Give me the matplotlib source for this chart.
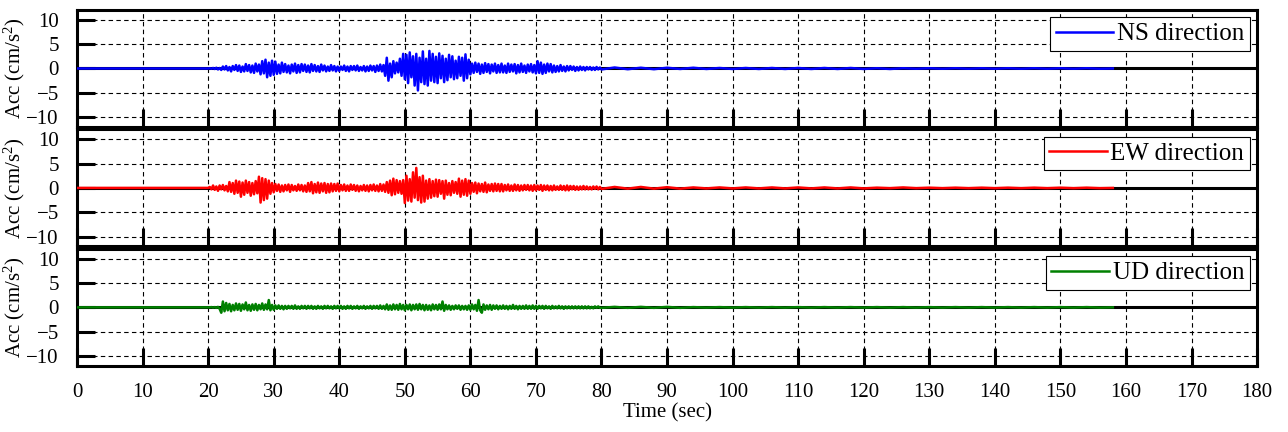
import numpy as np
import matplotlib
matplotlib.use('Agg')
import matplotlib.pyplot as plt

# ---------------- data ----------------
# strong-motion part: 20 s .. 79.75 s every 0.25 s
t_main = np.arange(20.0, 80.0, 0.25)
# quiet tail: 80 s .. 158 s every 2 s
t_tail = np.arange(80.0, 160.0, 2.0)

ns_main = [
    0.0, 0.05, -0.05, 0.1, -0.1, 0.15, -0.2, 0.1, -0.3, 0.4,
    -0.2, 0.5, -0.4, 0.3, -0.6, 0.5, -0.3, 0.7, -0.5, 0.6,
    -0.7, 0.4, -0.6, 0.9, -0.5, 0.7, -0.8, 0.6, -0.9, 1.0,
    -0.6, 0.8, -1.2, 1.5, -1.0, 1.8, -1.8, 1.2, -1.5, 1.6,
    -1.3, 1.4, -1.1, 0.8, -1.0, 1.2, -0.7, 0.9, -0.8, 0.6,
    -1.0, 0.8, -0.6, 1.0, -0.9, 0.7, -0.8, 0.9, -0.5, 0.8,
    -0.7, 0.6, -0.8, 0.9, -0.5, 0.7, -0.6, 0.5, -0.7, 0.8,
    -0.4, 0.6, -0.6, 0.4, -0.5, 0.7, -0.4, 0.5, -0.6, 0.4,
    -0.5, 0.4, -0.3, 0.6, -0.5, 0.4, -0.6, 0.5, -0.3, 0.5,
    -0.4, 0.6, -0.5, 0.3, -0.4, 0.5, -0.6, 0.4, -0.5, 0.6,
    -0.4, 0.5, -0.7, 0.6, -0.5, 0.8, -0.6, 0.7, -1.5, 2.2,
    -2.5, 1.0, -1.8, 1.5, -1.0, 1.2, -0.8, 2.0, -1.5, 3.0,
    -2.2, 2.8, -3.0, 3.3, -1.8, 2.5, -3.5, 3.0, -4.5, 2.2,
    -2.8, 3.5, -3.2, 2.0, -3.5, 3.6, -2.5, 3.0, -2.8, 2.4,
    -3.0, 3.1, -2.0, 2.6, -2.8, 2.0, -2.4, 2.8, -1.8, 2.5,
    -2.2, 1.6, -2.0, 2.4, -1.5, 2.2, -2.5, 2.9, -2.0, 1.8,
    -1.2, 1.0, -0.9, 1.2, -0.7, 1.0, -1.1, 0.8, -0.9, 1.1,
    -0.7, 0.9, -1.0, 0.8, -0.6, 1.0, -0.9, 0.7, -0.8, 1.0,
    -0.8, 0.6, -0.9, 1.0, -0.7, 0.8, -0.6, 0.9, -1.0, 0.7,
    -0.8, 1.0, -0.7, 0.6, -0.9, 0.8, -0.6, 0.9, -0.8, 0.7,
    -1.0, 1.5, -0.9, 1.2, -1.1, 0.8, -0.9, 1.0, -0.6, 0.9,
    -0.8, 0.6, -0.7, 0.5, -0.6, 0.7, -0.5, 0.4, -0.6, 0.5,
    -0.4, 0.5, -0.3, 0.4, -0.5, 0.3, -0.4, 0.4, -0.3, 0.3,
    -0.4, 0.3, -0.2, 0.3, -0.3, 0.2, -0.3, 0.3, -0.2, 0.2,
]
ew_main = [
    0.0, 0.2, -0.3, 0.5, -0.4, 0.3, -0.6, 0.5, -0.3, 0.6,
    -0.5, 0.4, -0.7, 1.2, -0.8, 1.0, -1.2, 1.5, -1.0, 1.3,
    -1.8, 1.1, -1.4, 1.5, -1.0, 1.2, -1.6, 1.0, -1.3, 1.4,
    -1.1, 2.3, -3.0, 2.0, -2.5, 1.8, -2.2, 1.5, -1.2, 1.0,
    -0.9, 0.8, -0.6, 0.7, -0.8, 0.5, -0.7, 0.6, -0.5, 0.7,
    -0.8, 0.6, -0.5, 0.4, -0.6, 0.7, -0.5, 0.6, -0.7, 0.5,
    -0.8, 1.0, -0.7, 1.2, -1.1, 0.8, -0.9, 1.1, -1.0, 0.9,
    -0.7, 1.0, -1.0, 0.8, -0.9, 0.9, -0.7, 0.8, -0.6, 0.9,
    -0.7, 0.6, -0.5, 0.7, -0.6, 0.5, -0.6, 0.7, -0.4, 0.6,
    -0.6, 0.5, -0.7, 0.4, -0.5, 0.6, -0.6, 0.5, -0.7, 0.6,
    -0.5, 0.7, -0.6, 0.5, -0.7, 0.8, -0.6, 0.7, -0.8, 1.2,
    -1.0, 1.5, -1.5, 1.9, -1.3, 1.6, -1.0, 1.4, -1.2, 1.6,
    -3.1, 2.5, -2.6, 1.8, -2.8, 3.2, -2.0, 4.1, -2.5, 2.2,
    -3.0, 2.5, -2.8, 1.5, -2.2, 1.8, -2.0, 1.4, -1.7, 1.7,
    -1.8, 1.6, -1.2, 1.4, -2.2, 1.5, -1.4, 1.0, -1.5, 1.4,
    -1.0, 1.2, -1.2, 1.9, -1.8, 1.5, -1.4, 1.8, -1.6, 1.5,
    -1.2, 1.0, -0.8, 1.1, -1.1, 0.9, -0.7, 0.8, -0.8, 1.1,
    -0.9, 0.7, -0.6, 0.8, -0.7, 0.9, -0.6, 0.8, -0.7, 0.8,
    -0.7, 0.6, -0.5, 0.7, -0.6, 0.5, -0.6, 0.7, -0.5, 0.6,
    -0.6, 0.5, -0.5, 0.6, -0.4, 0.6, -0.5, 0.5, -0.6, 0.6,
    -0.5, 0.5, -0.4, 0.6, -0.6, 0.5, -0.4, 0.5, -0.5, 0.4,
    -0.5, 0.5, -0.4, 0.3, -0.4, 0.5, -0.4, 0.4, -0.5, 0.5,
    -0.5, 0.4, -0.3, 0.4, -0.4, 0.3, -0.4, 0.3, -0.3, 0.4,
    -0.3, 0.3, -0.3, 0.2, -0.3, 0.3, -0.2, 0.3, -0.3, 0.2,
]
ud_main = [
    0.0, 0.0, 0.05, -0.05, 0.05, -0.1, 0.1, -0.3, -1.1, 1.2,
    -0.8, 0.9, -0.6, 0.7, -0.8, 0.5, -0.6, 0.8, -0.5, 0.7,
    -0.7, 0.6, -0.4, 1.0, -0.6, 0.5, -0.7, 0.6, -0.5, 0.7,
    -0.6, 0.5, -0.4, 0.8, -0.5, 0.6, -0.4, 1.5, -0.6, 0.5,
    -0.5, 0.4, -0.3, 0.4, -0.3, 0.3, -0.4, 0.3, -0.3, 0.3,
    -0.2, 0.3, -0.3, 0.4, -0.3, 0.2, -0.3, 0.3, -0.2, 0.3,
    -0.3, 0.3, -0.2, 0.3, -0.3, 0.2, -0.3, 0.3, -0.2, 0.2,
    -0.3, 0.3, -0.2, 0.3, -0.2, 0.2, -0.3, 0.3, -0.2, 0.3,
    -0.2, 0.3, -0.3, 0.2, -0.3, 0.3, -0.2, 0.3, -0.3, 0.2,
    -0.2, 0.3, -0.3, 0.2, -0.2, 0.3, -0.3, 0.2, -0.2, 0.3,
    -0.3, 0.3, -0.2, 0.3, -0.3, 0.4, -0.3, 0.3, -0.4, 0.6,
    -0.5, 0.4, -0.5, 0.6, -0.4, 0.5, -0.5, 0.7, -0.4, 0.5,
    -0.6, 0.5, -0.4, 0.6, -0.6, 0.5, -0.4, 0.6, -0.5, 0.7,
    -0.4, 0.5, -0.6, 0.5, -0.5, 0.4, -0.6, 0.6, -0.4, 0.5,
    -0.5, 0.6, -0.4, 1.2, -0.7, 0.5, -0.4, 0.4, -0.5, 0.3,
    -0.4, 0.4, -0.3, 0.4, -0.5, 0.3, -0.4, 0.3, -0.5, 0.4,
    -0.5, 0.6, -0.4, 0.5, -0.7, 1.5, -0.6, -1.1, 0.6, -0.5,
    0.4, -0.4, 0.5, -0.5, 0.4, -0.3, 0.4, -0.4, 0.3, -0.3,
    0.4, -0.3, 0.3, -0.4, 0.3, -0.3, 0.5, -0.3, 0.3, -0.4,
    0.3, -0.3, 0.3, -0.3, 0.4, -0.3, 0.3, -0.3, 0.4, -0.3,
    0.3, -0.3, 0.3, -0.2, 0.3, -0.3, 0.3, -0.2, 0.2, -0.3,
    0.3, -0.2, 0.2, -0.2, 0.3, -0.2, 0.2, -0.3, 0.2, -0.2,
    0.2, -0.2, 0.2, -0.2, 0.2, -0.2, 0.2, -0.2, 0.2, -0.2,
    0.2, -0.2, 0.2, -0.2, 0.1, -0.2, 0.2, -0.1, 0.2, -0.1,
]
ns_tail = [
    -0.2, 0.2, -0.15, 0.15, -0.15, 0.15, -0.1, 0.15, -0.1, 0.1,
    -0.1, 0.1, -0.1, 0.1, -0.1, 0.1, -0.1, 0.1, -0.1, 0.1,
    -0.1, 0.05, -0.1, 0.05, -0.05, 0.05, -0.05, 0.05, -0.05, 0.05,
    -0.05, 0.05, -0.05, 0.05, -0.05, 0.05, -0.05, 0.05, -0.05, 0.0,
]
ew_tail = [
    -0.2, 0.2, -0.15, 0.2, -0.15, 0.15, -0.15, 0.1, -0.1, 0.1,
    -0.1, 0.1, -0.1, 0.1, -0.1, 0.1, -0.1, 0.1, -0.1, 0.1,
    -0.1, 0.05, -0.05, 0.1, -0.05, 0.05, -0.05, 0.05, -0.05, 0.05,
    -0.05, 0.05, -0.05, 0.05, -0.05, 0.05, -0.05, 0.05, -0.05, 0.0,
]
ud_tail = [
    -0.1, 0.1, -0.1, 0.1, -0.1, 0.1, -0.1, 0.05, -0.05, 0.05,
    -0.05, 0.05, -0.05, 0.05, -0.05, 0.05, -0.05, 0.05, -0.05, 0.05,
    -0.05, 0.05, -0.05, 0.05, -0.05, 0.05, -0.05, 0.05, -0.05, 0.05,
    -0.05, 0.05, -0.05, 0.05, -0.05, 0.05, -0.05, 0.05, -0.05, 0.0,
]

labels = ['NS direction', 'EW direction', 'UD direction']
colors = ['blue', 'red', 'green']
series = [(ns_main, ns_tail), (ew_main, ew_tail), (ud_main, ud_tail)]
x_ticks = np.arange(0, 181, 10)
y_ticks = [-10, -5, 0, 5, 10]

# ---------------- style ----------------
plt.rcParams['font.family'] = ['Liberation Serif', 'DejaVu Serif']
plt.rcParams['mathtext.fontset'] = 'custom'
plt.rcParams['mathtext.rm'] = 'Liberation Serif'
plt.rcParams['mathtext.it'] = 'Liberation Serif:italic'

fig, axes = plt.subplots(3, 1, figsize=(12.88, 4.32), dpi=100, sharex=True)
fig.subplots_adjust(left=0.0598, right=0.976, top=0.977, bottom=0.153, hspace=0.02)

for ax, (main, tail), lab, col in zip(axes, series, labels, colors):
    t = np.concatenate([[0.0], t_main, t_tail])
    a = np.concatenate([[0.0], main, tail])
    ax.axhline(0, color='black', lw=2.2, zorder=2)                 # thick zero line
    ax.plot(t, a, color=col, lw=1.8, label=lab, zorder=3)
    ax.set_xlim(0, 180)
    ax.set_ylim(-12, 12)
    ax.set_xticks(x_ticks)
    ax.set_yticks(y_ticks)
    ax.grid(True, color='black', linestyle=(0, (4, 3)), linewidth=0.8)
    ax.tick_params(direction='in', length=13, width=2.2, labelsize=15,
                   top=False, right=False)
    ax.tick_params(axis='y', pad=13)
    ax.tick_params(axis='x', pad=12)
    for sp in ax.spines.values():
        sp.set_linewidth(2.2)
    ax.set_ylabel('Acc (cm/s$^{\\mathrm{2}}$)', fontsize=15)
    ax.yaxis.set_label_coords(-0.042, 0.5)
    leg = ax.legend(loc='upper right', fontsize=18, fancybox=False,
                    edgecolor='black', framealpha=1, borderpad=0.22,
                    borderaxespad=0.3, handlelength=2.3, handletextpad=0.15)
    leg.get_frame().set_linewidth(0.8)

for ax in axes[:-1]:
    ax.tick_params(labelbottom=False)
axes[-1].set_xlabel('Time (sec)', fontsize=15, labelpad=1)

plt.savefig('out.png', dpi=100)
